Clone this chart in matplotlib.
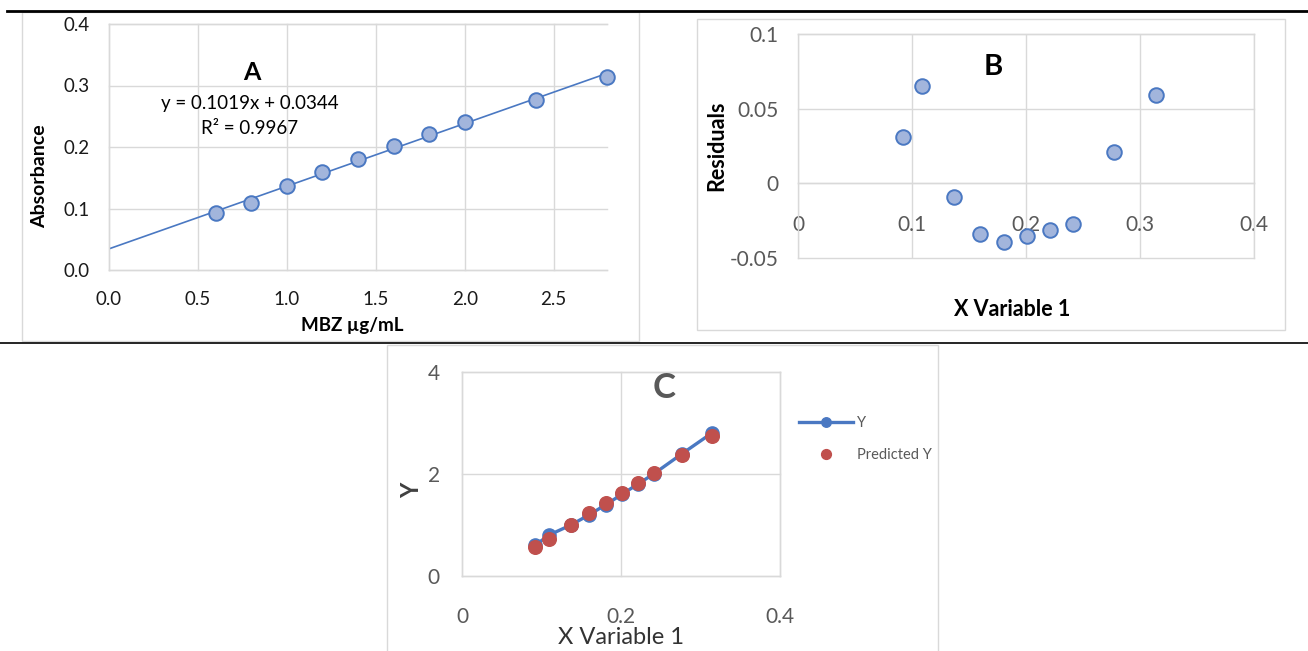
import matplotlib

matplotlib.use("Agg")
import matplotlib.pyplot as plt
from matplotlib.lines import Line2D
from matplotlib.patches import Rectangle
from matplotlib.ticker import FuncFormatter

W, H, DPI = 1308, 651, 100

# calibration standards
conc_ug_ml = [0.6, 0.8, 1.0, 1.2, 1.4, 1.6, 1.8, 2.0, 2.4, 2.8]
absorbance = [0.092, 0.109, 0.137, 0.160, 0.181, 0.201, 0.221, 0.241, 0.277, 0.314]
slope, intercept, r2 = 0.1019, 0.0344, 0.9967

# regression output (concentration on absorbance)
residuals = [0.031, 0.065, -0.009, -0.034, -0.039, -0.035, -0.031, -0.027, 0.021, 0.059]
predicted_y = [0.569, 0.735, 1.009, 1.234, 1.439, 1.635, 1.831, 2.027, 2.379, 2.741]

a_xticks = [0.0, 0.5, 1.0, 1.5, 2.0, 2.5]
a_yticks = [0.0, 0.1, 0.2, 0.3, 0.4]
b_xticks = [0, 0.1, 0.2, 0.3, 0.4]
b_yticks = [-0.05, 0, 0.05, 0.1]
c_xticks = [0, 0.2, 0.4]
c_yticks = [0, 2, 4]

BLUE = "#4A78C2"
BLUE_FILL = "#A2B5DC"
RED = "#C0504D"
GRID = "#D9D9D9"
GREY_TXT = "#595959"

plt.rcParams["font.family"] = ["Lato", "DejaVu Sans"]


def px_axes(fig, left, top, right, bottom):
    return fig.add_axes([left / W, 1 - bottom / H, (right - left) / W, (bottom - top) / H])


def px_box(fig, left, top, right, bottom, color=GRID, lw=1.0):
    fig.add_artist(Rectangle((left / W, 1 - bottom / H), (right - left) / W, (bottom - top) / H,
                             transform=fig.transFigure, fill=False, ec=color, lw=lw))


def px_hline(fig, y, x0, x1, lw):
    fig.add_artist(Line2D([x0 / W, x1 / W], [1 - y / H, 1 - y / H],
                          transform=fig.transFigure, color="black", lw=lw))


def px_text(fig, x, y, s, **kw):
    kw.setdefault("ha", "center")
    kw.setdefault("va", "center")
    fig.text(x / W, 1 - y / H, s, **kw)


def excel_axes(ax, xticks, yticks, fmt, size, color, xpad, ypad):
    ax.set_xticks(xticks)
    ax.set_yticks(yticks)
    ax.xaxis.set_major_formatter(FuncFormatter(fmt))
    ax.yaxis.set_major_formatter(FuncFormatter(fmt))
    ax.tick_params(axis="both", length=0, labelsize=size, labelcolor=color)
    ax.tick_params(axis="x", pad=xpad)
    ax.tick_params(axis="y", pad=ypad)
    for side in ax.spines:
        ax.spines[side].set_color(GRID)
        ax.spines[side].set_linewidth(1.0)
    ax.grid(True, color=GRID, lw=1.0)
    for gl in ax.get_xgridlines() + ax.get_ygridlines():
        gl.set_clip_on(False)
    ax.set_axisbelow(True)


fig = plt.figure(figsize=(W / DPI, H / DPI), dpi=DPI)

# frame lines and panel borders
px_hline(fig, 11, 7, W, 2.0)
px_hline(fig, 343, 0, W, 1.2)
px_box(fig, 22, 12, 639, 341)
px_box(fig, 697, 19, 1285, 330)
px_box(fig, 387, 345, 938, 660)

# --- A: calibration curve ---
ax_a = px_axes(fig, 109, 24, 607, 270)
ax_a.set_xlim(0, 2.8)
ax_a.set_ylim(0, 0.4)
excel_axes(ax_a, a_xticks, a_yticks, lambda v, _: f"{v:.1f}", 13.5, "#1A1A1A", 15, 14)
ax_a.spines["right"].set_visible(False)
fit_x = [0.0, conc_ug_ml[-1]]
ax_a.plot(fit_x, [intercept + slope * x for x in fit_x], color=BLUE, lw=1.2, zorder=2)
ax_a.plot(conc_ug_ml, absorbance, "o", ms=10.5, mfc=BLUE_FILL, mec=BLUE, mew=1.4, zorder=3,
          clip_on=False)
px_text(fig, 352, 325, "MBZ µg/mL", fontsize=13.5, fontweight="bold")
px_text(fig, 40, 176, "Absorbance", fontsize=14, fontweight="bold", rotation=90)
px_text(fig, 252, 73, "A", fontsize=18, fontweight="bold")
px_text(fig, 250, 104, f"y = {slope}x + {intercept}", fontsize=13.5)
px_text(fig, 250, 129, f"R² = {r2}", fontsize=13.5)

# --- B: residual plot ---
ax_b = px_axes(fig, 798, 34, 1254, 258)
ax_b.set_xlim(0, 0.4)
ax_b.set_ylim(-0.05, 0.1)
excel_axes(ax_b, b_xticks, b_yticks, lambda v, _: f"{round(v, 2):g}", 15, GREY_TXT, 23, 14)
ax_b.spines["bottom"].set_position(("data", 0))
ax_b.plot(absorbance, residuals, "o", ms=10.5, mfc=BLUE_FILL, mec=BLUE, mew=1.4, zorder=3)
px_text(fig, 1012, 309, "X Variable 1", fontsize=15.5, fontweight="bold")
px_text(fig, 717, 146, "Residuals", fontsize=15.5, fontweight="bold", rotation=90)
px_text(fig, 993, 67, "B", fontsize=21, fontweight="bold")

# --- C: line fit plot ---
ax_c = px_axes(fig, 462, 372, 780, 576)
ax_c.set_xlim(0, 0.4)
ax_c.set_ylim(0, 4)
excel_axes(ax_c, c_xticks, c_yticks, lambda v, _: f"{round(v, 2):g}", 15, GREY_TXT, 22, 16)
ax_c.plot(absorbance, conc_ug_ml, "-o", color=BLUE, lw=2.4, ms=9.5, label="Y", zorder=3)
ax_c.plot(absorbance, predicted_y, "o", color=RED, ms=9.8, label="Predicted Y", zorder=4)
ax_c.legend(loc="upper left", bbox_to_anchor=(799 / W, 1 - 416 / H),
            bbox_transform=fig.transFigure, frameon=False, borderaxespad=0, borderpad=0,
            fontsize=10.5, labelcolor=GREY_TXT, handlelength=3.7, handletextpad=0.3,
            labelspacing=1.25, markerscale=0.72)
px_text(fig, 621, 637, "X Variable 1", fontsize=17, color="#333333")
px_text(fig, 412, 490, "Y", fontsize=17, fontweight="bold", rotation=90, color="#404040")
px_text(fig, 664, 388, "C", fontsize=25, fontweight="bold", color=GREY_TXT)

fig.savefig("out.png", dpi=DPI)
